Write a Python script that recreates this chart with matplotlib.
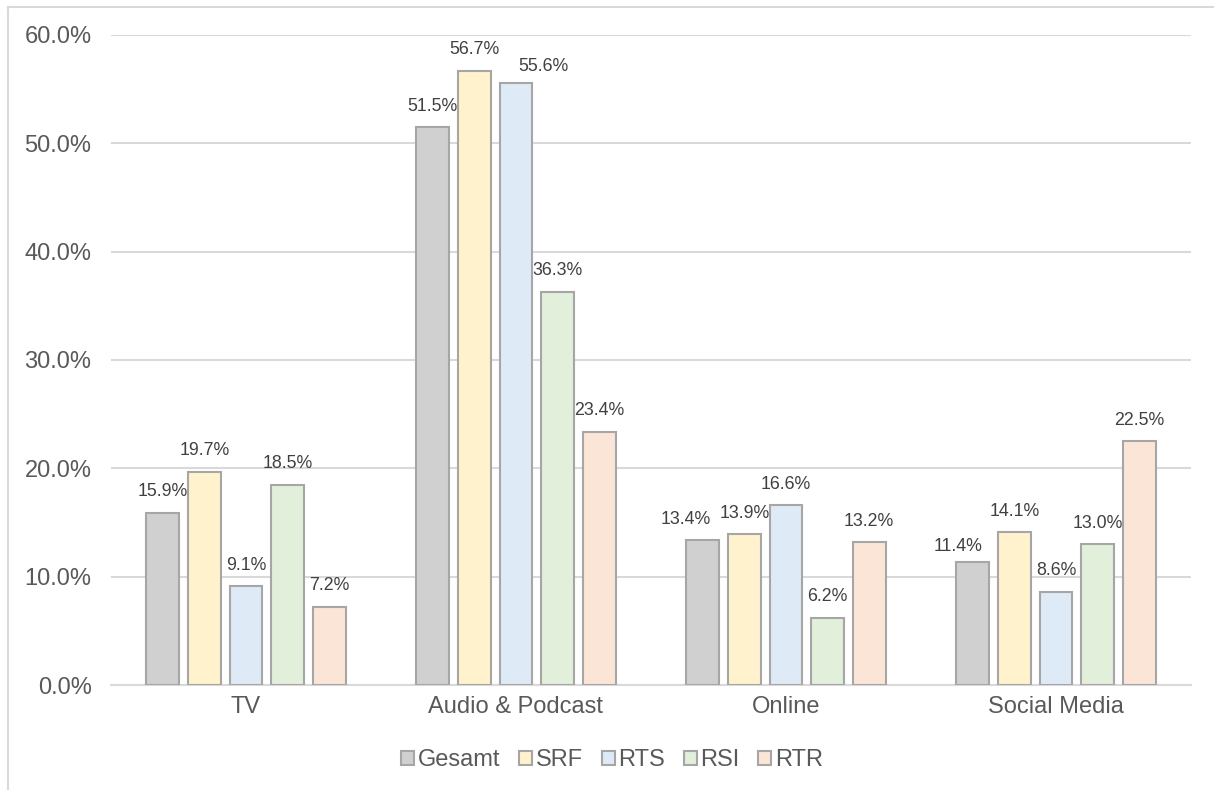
import matplotlib
matplotlib.use("Agg")
import matplotlib.pyplot as plt
from matplotlib.lines import Line2D
import numpy as np

categories = ["TV", "Audio & Podcast", "Online", "Social Media"]
series_names = ["Gesamt", "SRF", "RTS", "RSI", "RTR"]
gesamt = [15.9, 51.5, 13.4, 11.4]
srf = [19.7, 56.7, 13.9, 14.1]
rts = [9.1, 55.6, 16.6, 8.6]
rsi = [18.5, 36.3, 6.2, 13.0]
rtr = [7.2, 23.4, 13.2, 22.5]
y_ticks = [0, 10, 20, 30, 40, 50, 60]

series_values = [gesamt, srf, rts, rsi, rtr]
face_colors = ["#d0d0d0", "#fff2cc", "#deebf7", "#e2efda", "#fbe5d6"]
edge_color = "#a6a6a6"
text_color = "#595959"
grid_color = "#d9d9d9"

# label offsets in pixels (dx, dy) for labels Excel moved to avoid overlap
label_adjust = {(2, 1): (27, -5), (0, 2): (-17, -1), (0, 3): (-15, -6)}

plt.rcParams["font.family"] = ["Liberation Sans", "DejaVu Sans"]

W, H = 1214, 790
fig = plt.figure(figsize=(W / 100, H / 100), dpi=100)
ax = fig.add_axes([111 / W, 1 - 685 / H, (1191 - 111) / W, (685 - 35) / H])

x = np.arange(len(categories))
step = 0.154
width = 0.122
for i, (name, vals) in enumerate(zip(series_names, series_values)):
    pos = x + (i - 2) * step
    bars = ax.bar(pos, vals, width=width, color=face_colors[i], edgecolor=edge_color,
                  linewidth=1.5, label=name, zorder=3)
    for j, (p, v) in enumerate(zip(pos, vals)):
        dx, dy = label_adjust.get((i, j), (0, 0))
        ax.annotate(f"{v:.1f}%", xy=(p, v), xytext=(dx * 0.72, (21 + dy) * 0.72),
                    textcoords="offset points", ha="center", va="center",
                    fontsize=12.8, color="#404040", zorder=4)

ax.set_xlim(-0.5, 3.5)
ax.set_ylim(0, 60)
ax.set_yticks(y_ticks)
ax.set_yticklabels([f"{t:.1f}%" for t in y_ticks])
ax.set_xticks(x)
ax.set_xticklabels(categories)
ax.tick_params(axis="both", length=0, labelsize=17, colors=text_color)
ax.tick_params(axis="y", pad=14)
ax.tick_params(axis="x", pad=8)
ax.grid(axis="y", color=grid_color, linewidth=1.5, zorder=0)
for s in ["left", "right", "top"]:
    ax.spines[s].set_visible(False)
ax.spines["bottom"].set_color(grid_color)
ax.spines["bottom"].set_linewidth(1.5)
ax.spines["bottom"].set_zorder(2)

leg = fig.legend(loc="center", bbox_to_anchor=(612 / W, 1 - 760 / H), ncol=5,
                 frameon=False, fontsize=17, handlelength=0.55, handleheight=0.55,
                 handletextpad=0.15, columnspacing=0.8, labelcolor=text_color)

# outer chart border (left and top)
fig.add_artist(Line2D([7.5 / W, 7.5 / W], [0, 1 - 6.5 / H], transform=fig.transFigure,
                      color=grid_color, linewidth=1.5))
fig.add_artist(Line2D([7.5 / W, 1], [1 - 6.5 / H, 1 - 6.5 / H], transform=fig.transFigure,
                      color=grid_color, linewidth=1.5))

fig.savefig("out.png", dpi=100, facecolor="white")
